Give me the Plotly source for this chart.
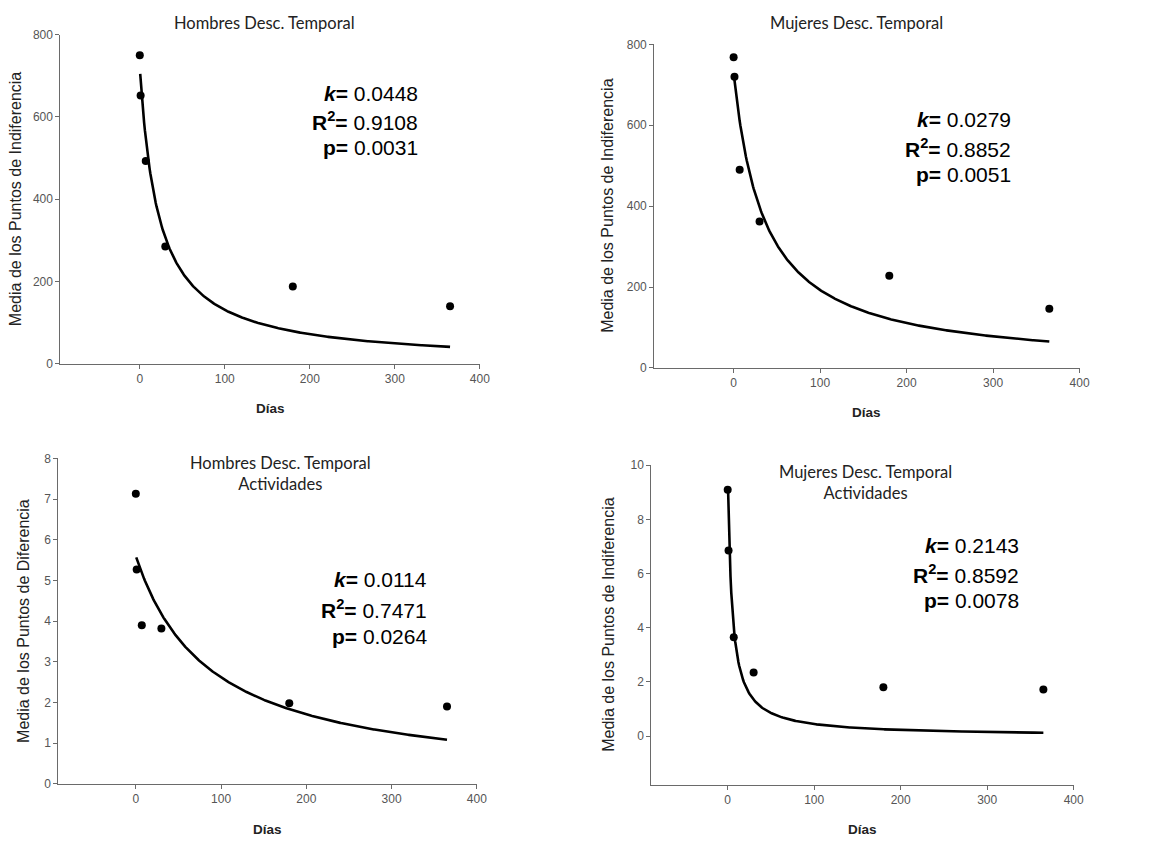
import numpy as np
import plotly.graph_objects as go

W, H = 1157, 844

# Delays (days) at which indifference points were measured
dias = [0, 1, 7, 30, 180, 365]

# Mean indifference points per panel
hombres_dinero = [750, 652, 493, 285, 188, 140]
mujeres_dinero = [768, 720, 490, 362, 228, 146]
hombres_act = [7.13, 5.27, 3.90, 3.82, 1.98, 1.90]
mujeres_act = [9.10, 6.85, 3.65, 2.35, 1.80, 1.72]

# Hyperbolic fit V = A / (1 + k*D): amplitude and discount rate per panel
amplitudes = [720, 730, 5.6, 10.0]
k_vals = [0.0448, 0.0279, 0.0114, 0.2143]
r2_vals = ["0.9108", "0.8852", "0.7471", "0.8592"]
p_vals = ["0.0031", "0.0051", "0.0264", "0.0078"]

titles = [
    "Hombres Desc. Temporal",
    "Mujeres Desc. Temporal",
    "Hombres Desc. Temporal<br>Actividades",
    "Mujeres Desc. Temporal<br>Actividades",
]
ytitles = [
    "Media de los Puntos de Indiferencia",
    "Media de los Puntos de Indiferencia",
    "Media de los Puntos de Diferencia",
    "Media de los Puntos de Indiferencia",
]
series = [hombres_dinero, mujeres_dinero, hombres_act, mujeres_act]

# Panel geometry in pixels: (left, right, top, bottom)
boxes = [(61, 484, 28, 363), (660, 1089, 38, 367), (59, 481, 459, 790), (657, 1083, 466, 791)]
xranges = [[-93.3, 400], [-91.7, 400], [-90.7, 400], [-88.3, 400]]
yranges = [[0, 800], [0, 800], [0, 8], [-1.8, 10]]
ydticks = [200, 200, 1, 2]
ytickrange = [(0, 800), (0, 800), (0, 8), (0, 10)]

title_pos = [(267, 16), (864, 16), (283, 474), (873, 484)]
stat_pos = [(424, (88, 116, 143)), (1022, (114, 143, 170)),
            (433, (582, 612, 640)), (1030, (548, 577, 604))]
xlabel_pos = [(273, 408), (874, 412), (270, 836), (870, 836)]
ylabel_x = [15, 612, 23, 613]

fig = go.Figure()
annotations = []

for i in range(4):
    ax = "" if i == 0 else str(i + 1)
    l, r, t, b = boxes[i]
    xa = f"xaxis{ax}"
    ya = f"yaxis{ax}"

    # fitted hyperbolic curve
    d = np.linspace(0.5, 365, 400)
    v = amplitudes[i] / (1 + k_vals[i] * d)
    fig.add_trace(go.Scatter(x=d, y=v, mode="lines", line=dict(color="black", width=2.6),
                             xaxis=f"x{ax}", yaxis=f"y{ax}", showlegend=False, hoverinfo="skip"))
    fig.add_trace(go.Scatter(x=dias, y=series[i], mode="markers",
                             marker=dict(color="black", size=8),
                             xaxis=f"x{ax}", yaxis=f"y{ax}", showlegend=False))

    lo, hi = ytickrange[i]
    tv = list(np.arange(lo, hi + 1e-9, ydticks[i]))
    tv = [int(x) if float(x).is_integer() else x for x in tv]

    fig.layout[xa] = dict(
        domain=[l / W, r / W], anchor=f"y{ax}", range=xranges[i],
        tickvals=[0, 100, 200, 300, 400], showgrid=False, zeroline=False,
        showline=True, linecolor="#6a6a6a", linewidth=1.2,
        ticks="outside", ticklen=4, tickcolor="#6a6a6a",
        tickfont=dict(family="Arial", size=12, color="#555555"),
    )
    fig.layout[ya] = dict(
        domain=[1 - b / H, 1 - t / H], anchor=f"x{ax}", range=yranges[i],
        tickvals=tv, showgrid=False, zeroline=False,
        showline=True, linecolor="#6a6a6a", linewidth=1.2,
        ticks="outside", ticklen=4, tickcolor="#6a6a6a",
        tickfont=dict(family="Arial", size=12, color="#555555"),
    )

    tx, ty = title_pos[i]
    annotations.append(dict(text=titles[i], x=tx / W, y=1 - ty / H, xref="paper", yref="paper",
                            showarrow=False, xanchor="center", yanchor="middle",
                            font=dict(family="Lato", size=16.5, color="#222222")))
    sx, sys_ = stat_pos[i]
    lines = [f"<b><i>k</i>=</b> {k_vals[i]:.4f}",
             f"<b>R<sup>2</sup>=</b> {r2_vals[i]}",
             f"<b>p=</b> {p_vals[i]}"]
    for txt, sy in zip(lines, sys_):
        annotations.append(dict(text=txt, x=sx / W, y=1 - sy / H, xref="paper", yref="paper",
                                showarrow=False, xanchor="right", yanchor="middle",
                                font=dict(family="Arial", size=21, color="black")))
    lx, lyy = xlabel_pos[i]
    annotations.append(dict(text="<b>Días</b>", x=lx / W, y=1 - lyy / H, xref="paper", yref="paper",
                            showarrow=False, xanchor="center", yanchor="middle",
                            font=dict(family="Arial", size=13.5, color="#222222")))
    annotations.append(dict(text=ytitles[i], x=ylabel_x[i] / W, y=1 - (t + b) / 2 / H,
                            xref="paper", yref="paper", showarrow=False, textangle=-90,
                            xanchor="center", yanchor="middle",
                            font=dict(family="Arial", size=16, color="#222222")))

fig.update_layout(width=W, height=H, margin=dict(l=0, r=0, t=0, b=0),
                  paper_bgcolor="white", plot_bgcolor="white",
                  annotations=annotations, showlegend=False)

fig.write_html("out.html")
